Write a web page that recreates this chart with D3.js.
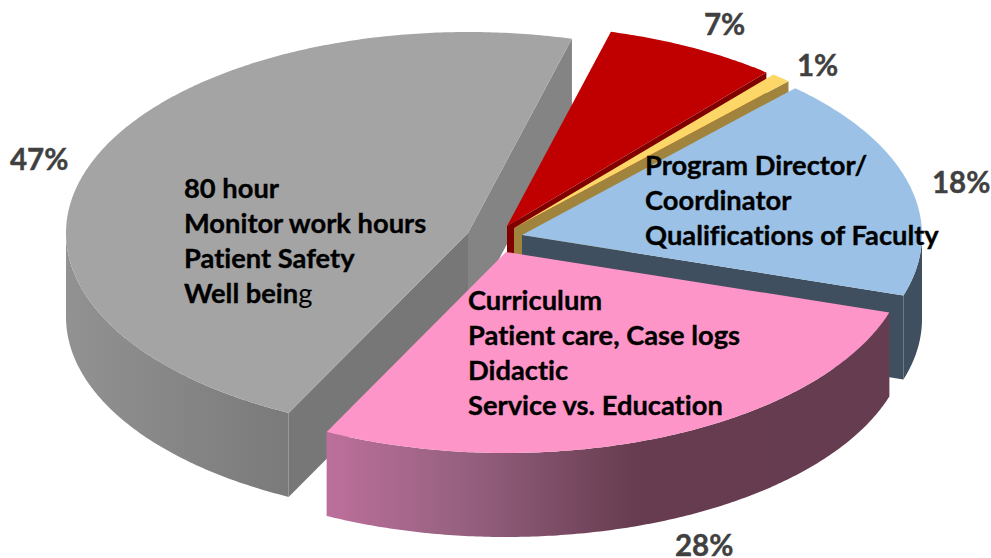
<!DOCTYPE html>
<html><head><meta charset="utf-8">
<style>html,body{margin:0;padding:0;background:#fff}svg{display:block}text{font-variant-ligatures:none}</style>
<script src="https://cdnjs.cloudflare.com/ajax/libs/d3/7.8.5/d3.min.js"></script>
</head><body><svg id="c" width="991" height="558"></svg>
<script>
// data
const categories = ["Duty hours","Other A","Other B","Faculty","Curriculum"];
const values = [46.8,7,0.8,17.9,27.5];
const percentLabels = ["47%","7%","1%","18%","28%"];
const sliceTexts = [
  ["80 hour","Monitor work hours","Patient Safety","Well bein|g"],
  [],[],
  ["Program Director/","Coordinator","Qualifications of Faculty"],
  ["Curriculum","Patient care, Case logs","Didactic","Service vs. Education"]
];
// styling / layout
const topColors  = ["#a4a4a4","#c00000","#fcd768","#9bc2e6","#fd95c8"];
const wallColors = ["#777777","#800000","#a0843e","#3f4f5f","#663c50"];
const startWallColors = ["#848484","#800000","#a0843e","#3f4f5f","#663c50"];
const centers = [[468,233],[507,226],[514,228],[522,235],[506,252]];
const radiiX = [402,402,402,400,402];
const RY = 201, DEPTH = 84;
const labelPos = [[10,170],[704,35],[797,76],[932,193],[675,555.5]];
const textPos = [[184,198],null,null,[645,175],[468,310]];
const textStep = [35,0,0,35,35];

const svg = d3.select("#c");
const defs = svg.append("defs");
const g1 = defs.append("linearGradient").attr("id","wallGray").attr("gradientUnits","userSpaceOnUse")
  .attr("x1",66).attr("x2",288).attr("y1",0).attr("y2",0);
g1.append("stop").attr("offset",0).attr("stop-color","#929292");
g1.append("stop").attr("offset",1).attr("stop-color","#7a7a7a");
const g2 = defs.append("linearGradient").attr("id","wallPink").attr("gradientUnits","userSpaceOnUse")
  .attr("x1",325).attr("x2",889).attr("y1",0).attr("y2",0);
g2.append("stop").attr("offset",0).attr("stop-color","#bd709c");
g2.append("stop").attr("offset",.25).attr("stop-color","#95607f");
g2.append("stop").attr("offset",.55).attr("stop-color","#673c50");
g2.append("stop").attr("offset",1).attr("stop-color","#663c50");
const outerFill = ["url(#wallGray)","#800000","#a0843e","#3f4f5f","url(#wallPink)"];

const TAU = 2*Math.PI;
const pie = d3.pie().sort(null).startAngle(206.5*Math.PI/180).endAngle((206.5+360)*Math.PI/180);
const arcs = pie(values);

function pt(i,a,dz=0){
  const [cx,cy]=centers[i];
  return [cx+radiiX[i]*Math.sin(a), cy-RY*Math.cos(a)+dz];
}
function rim(i,a0,a1,dz=0){
  const n=Math.max(2,Math.ceil(Math.abs(a1-a0)/0.01));
  return d3.range(n+1).map(k=>pt(i,a0+(a1-a0)*k/n,dz));
}
const line=d3.line();
function poly(p){return line(p)+"Z";}

arcs.forEach((d,i)=>{
  const g=svg.append("g").attr("class","slice");
  const c=centers[i];
  let a0=d.startAngle,a1=d.endAngle;
  if(a0>=TAU){a0-=TAU;a1-=TAU;}
  const pEnd=pt(i,a1), pStart=pt(i,a0);
  const wall=(p,fill)=>g.append("path").attr("d",poly([c,p,[p[0],p[1]+DEPTH],[c[0],c[1]+DEPTH]])).attr("fill",fill);
  if(Math.sin(a1)>0) wall(pEnd,startWallColors[i]);
  if(Math.sin(a0)<0) wall(pStart,wallColors[i]);
  const f0=Math.max(a0,Math.PI/2), f1=Math.min(a1,3*Math.PI/2);
  if(f1>f0){
    const up=rim(i,f0,f1), dn=rim(i,f1,f0,DEPTH);
    g.append("path").attr("d",poly(up.concat(dn))).attr("fill",outerFill[i]);
  }
  g.append("path").attr("d",poly([c].concat(rim(i,a0,a1)))).attr("fill",topColors[i]);
});

sliceTexts.forEach((lines,i)=>{
  lines.forEach((t,k)=>{
    const [bold,reg]=t.split("|");
    const el=svg.append("text").attr("x",textPos[i][0]).attr("y",textPos[i][1]+k*textStep[i])
      .attr("font-family","Lato, 'Open Sans', sans-serif").attr("font-size",27.3).attr("font-weight",700).attr("fill","#000");
    el.append("tspan").attr("stroke","#000").attr("stroke-width",0.35).text(bold);
    if(reg) el.append("tspan").attr("font-weight",400).text(reg);
  });
});
percentLabels.forEach((t,i)=>{
  svg.append("text").attr("x",labelPos[i][0]).attr("y",labelPos[i][1])
    .attr("font-family","Lato, 'Open Sans', sans-serif").attr("font-size",29.5).attr("font-weight",700)
    .attr("fill","#404040").attr("stroke","#404040").attr("stroke-width",0.4).text(t);
});
</script></body></html>
